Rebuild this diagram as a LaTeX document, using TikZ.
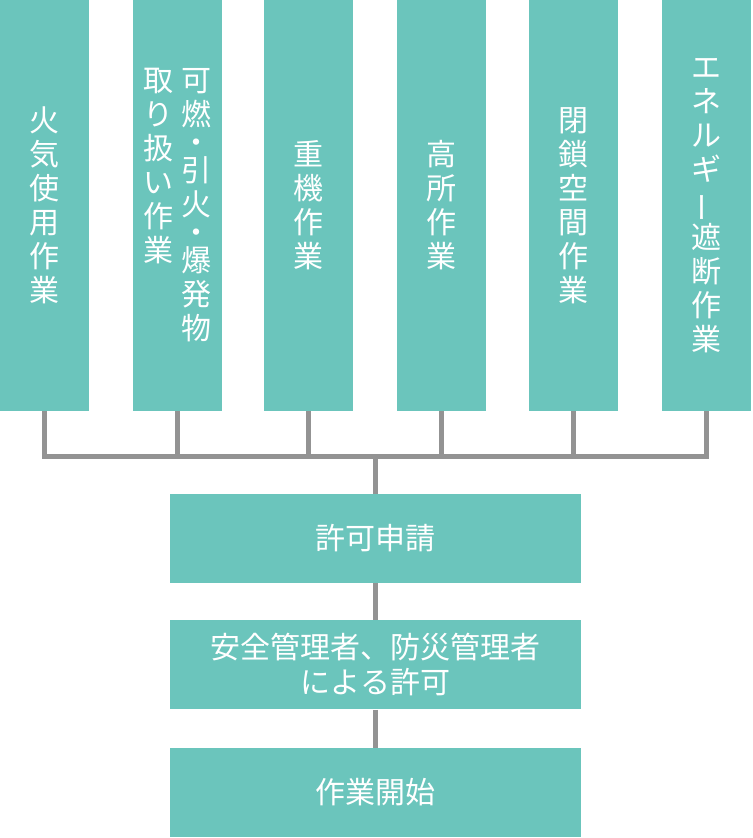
\documentclass[tikz,border=0pt]{standalone}
\usepackage{fontspec}
\usepackage{tikz}
\usepackage{xcolor}
\newfontfamily\jpfont{Noto Sans CJK JP}
\definecolor{boxteal}{HTML}{6BC5BC}
\definecolor{linegray}{HTML}{939393}
\newcommand{\tatebar}{\rotatebox[origin=c]{90}{ー}}

\begin{document}
\begin{tikzpicture}[x=0.5pt,y=0.5pt,
  box/.style={fill=boxteal, text=white, inner sep=0pt, align=center,
    font=\jpfont\fontsize{15}{17}\selectfont},
  tallbox/.style={box, minimum width=44.5pt, minimum height=205.5pt},
  widebox/.style={box, minimum width=205.5pt, minimum height=44.5pt,
    font=\jpfont\fontsize{15}{17.5}\selectfont},
  link/.style={draw=linegray, line width=2.5pt}]
\useasboundingbox (0,0) rectangle (752,838);
% work types
\node[tallbox] (fire) at (44.5,632.5) {火\\気\\使\\用\\作\\業};
\node[tallbox] (explo) at (177,632.5) {%
  \parbox[t]{15pt}{\centering 取\\り\\扱\\い\\作\\業}\hspace{4pt}%
  \parbox[t]{15pt}{\centering 可\\燃\\[-3pt]・\\[-3pt]引\\火\\[-3pt]・\\[-3pt]爆\\発\\物}};
\node[tallbox] (heavy) at (308.5,632.5) {重\\機\\作\\業};
\node[tallbox] (height) at (441,632.5) {高\\所\\作\\業};
\node[tallbox] (closed) at (573,632.5) {閉\\鎖\\空\\間\\作\\業};
\node[tallbox] (energy) at (706.5,632.5) {エ\\ネ\\ル\\ギ\\\tatebar\\遮\\断\\作\\業};
% flow
\node[widebox] (request) at (375.5,299.5) {許可申請};
\node[widebox] (approve) at (375.5,173) {安全管理者、防災管理者\\による許可};
\node[widebox] (start) at (375.5,45.5) {作業開始};
\coordinate (hub) at (375.5,381);
\foreach \n in {fire,explo,heavy,height,closed,energy}
  \draw[link] (\n.south) |- (hub);
\draw[link] (hub) -- (request.north);
\draw[link] (request) -- (approve);
\draw[link] (approve) -- (start);
\end{tikzpicture}
\end{document}
